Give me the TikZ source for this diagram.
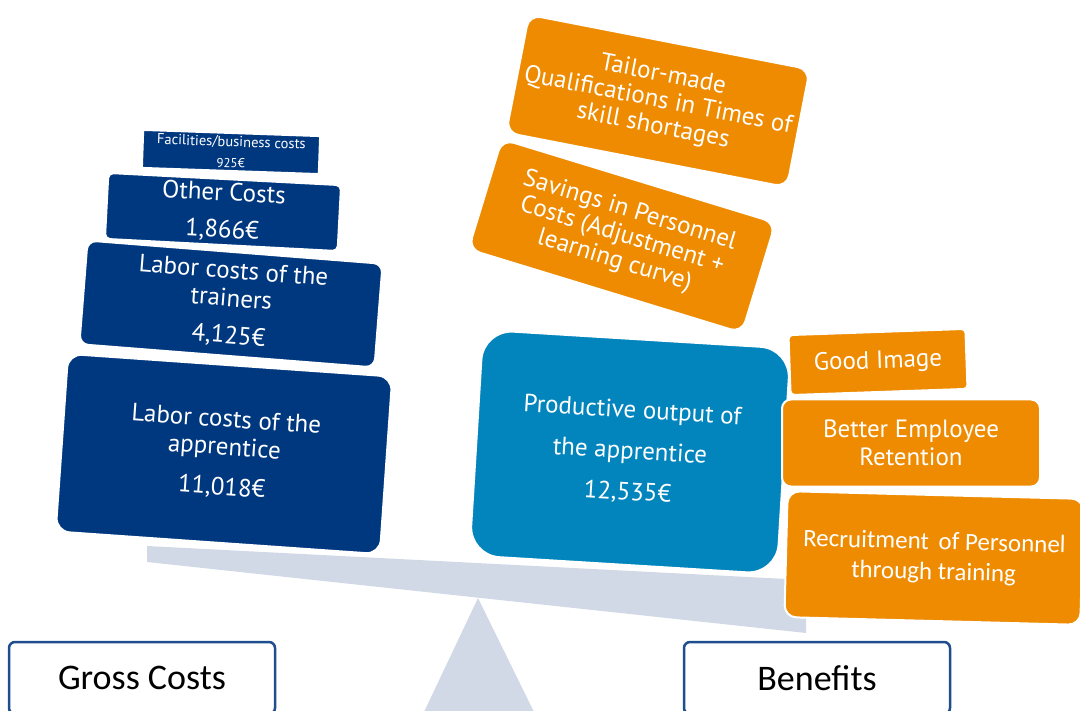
\documentclass[tikz,border=0pt]{standalone}
\usepackage{fontspec}
\setmainfont{PT Sans}
\newfontfamily\condfont{Carlito}
\definecolor{navy}{RGB}{0,56,128}
\definecolor{sky}{RGB}{2,133,189}
\definecolor{amber}{RGB}{238,139,0}
\definecolor{beamgray}{RGB}{209,216,230}
\definecolor{frame}{RGB}{31,78,143}
\begin{document}
\begin{tikzpicture}[x=1pt,y=-1pt,
  card/.style={draw=white, line width=2pt, text=white, align=center,
    inner sep=0pt, font=\fontsize{25}{28}\selectfont},
  costcard/.style={card, fill=navy},
  gaincard/.style={card, fill=amber},
  outputcard/.style={card, fill=sky},
  sidelabel/.style={draw=frame, line width=2.5pt, fill=white, rounded corners=6pt,
    minimum width=266pt, minimum height=72pt, inner sep=0pt,
    font=\condfont\fontsize{36}{40}\selectfont}]
\useasboundingbox (0,0) rectangle (1080,711);
\clip (0,0) rectangle (1080,711);

% balance beam and fulcrum
\fill[beamgray] (147,546) -- (806,580) -- (806,633) -- (147,562) -- cycle;
\fill[beamgray] (478,598) -- (534,712) -- (424,712) -- cycle;

% cost side
\node[costcard, rounded corners=14pt, minimum width=325pt, minimum height=178pt, rotate=-4]
  (apprentice) at (224,454) {Labor costs of the\\apprentice\\[12pt]11,018€};
\node[costcard, rounded corners=9pt, minimum width=296pt, minimum height=104pt, rotate=-4.5]
  (trainers) at (231,304) {Labor costs of the\\trainers\\[9pt]4,125€};
\node[costcard, rounded corners=5pt, minimum width=233pt, minimum height=66pt, rotate=-3]
  (other) at (223,212) {Other Costs\\[9pt]1,866€};
\node[costcard, rounded corners=1pt, minimum width=177pt, minimum height=38pt, rotate=-2,
  font=\fontsize{14.5}{21}\selectfont]
  (facilities) at (231,152) {Facilities/business costs\\{\fontsize{13}{15}\selectfont 925€}};

% benefit side
\node[gaincard, rounded corners=12pt, minimum width=286pt, minimum height=120pt, rotate=-11,
  font=\fontsize{25}{26}\selectfont]
  (tailor) at (658,101) {Tailor-made\\Qualifications in Times of\\skill shortages};
\node[gaincard, rounded corners=12pt, minimum width=286pt, minimum height=115pt, rotate=-17,
  font=\fontsize{25}{26}\selectfont]
  (savings) at (622,236) {Savings in Personnel\\Costs (Adjustment +\\learning curve)};
\node[outputcard, rounded corners=30pt, minimum width=308pt, minimum height=226pt, rotate=-3.5]
  (output) at (630,452) {Productive output of\\[13pt]the apprentice\\[13pt]12,535€};
\node[gaincard, rounded corners=4pt, minimum width=177pt, minimum height=60pt, rotate=2]
  (image) at (878,362) {Good Image};
\node[gaincard, rounded corners=9pt, minimum width=258pt, minimum height=87pt]
  (retention) at (911,443) {Better Employee\\Retention};
\node[gaincard, rounded corners=12pt, minimum width=296pt, minimum height=126pt, rotate=-1.5,
  font=\condfont\fontsize{25}{30}\selectfont]
  (recruit) at (934,558) {Recruitment\hspace{4pt} of Personnel\\through training};

% side captions
\node[sidelabel] (gross) at (142,678) {Gross Costs};
\node[sidelabel] (benefits) at (817,678) {Benefits};
\end{tikzpicture}
\end{document}
